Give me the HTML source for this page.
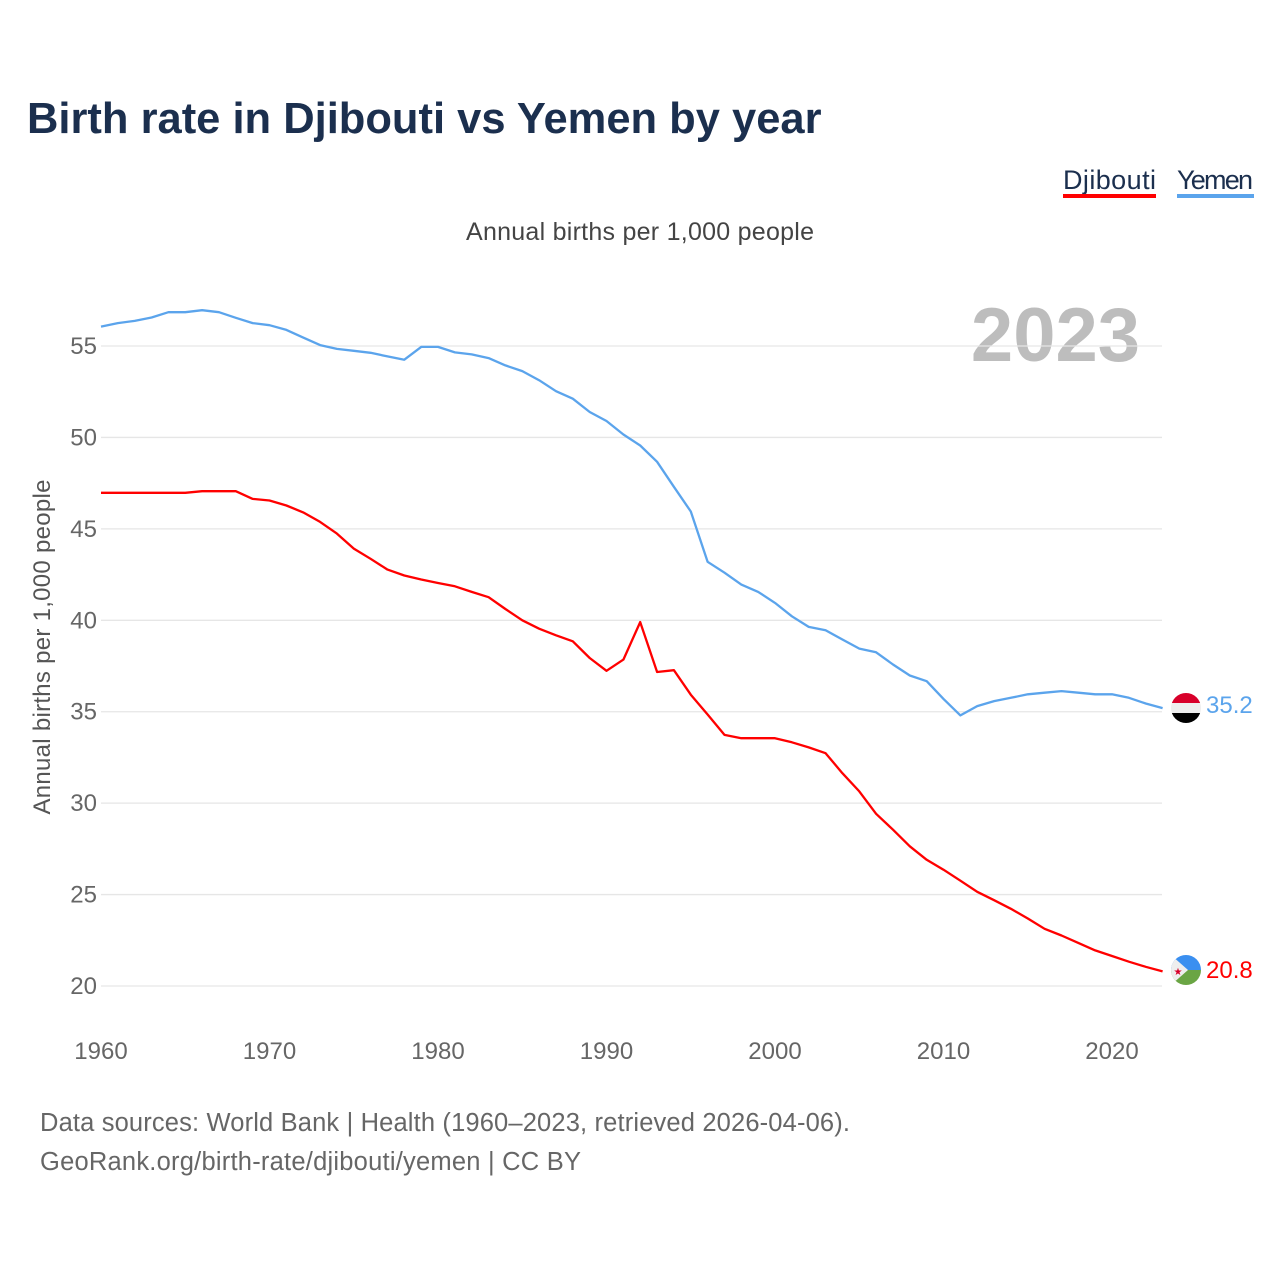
<!DOCTYPE html>
<html><head><meta charset="utf-8"><style>
body{margin:0;background:#fff;width:1280px;height:1280px;overflow:hidden;font-family:"Liberation Sans",sans-serif;}
svg text{font-family:"Liberation Sans",sans-serif;}
</style></head><body>
<svg id="chart" width="1280" height="1280" xmlns="http://www.w3.org/2000/svg">
<text x="27" y="133" font-size="43.5" font-weight="bold" fill="#1b2f4e">Birth rate in Djibouti vs Yemen by year</text>
<g>
<text x="1063" y="189" font-size="27" fill="#1b2f4e" textLength="93">Djibouti</text>
<rect x="1063" y="194" width="93" height="4" fill="#ff0000"/>
<text x="1177" y="189" font-size="27" fill="#1b2f4e" textLength="76">Yemen</text>
<rect x="1177" y="194" width="77" height="4" fill="#5ba4ec"/>
</g>
<text x="640" y="240" font-size="25" fill="#444" text-anchor="middle" textLength="348">Annual births per 1,000 people</text>
<text x="1140" y="361" font-size="76" font-weight="bold" fill="#bdbdbd" text-anchor="end">2023</text>
<g id="grid"></g>
<g id="yticks"></g>
<g id="xticks"></g>
<text transform="translate(50,647) rotate(-90)" font-size="24" fill="#555" text-anchor="middle" textLength="335">Annual births per 1,000 people</text>
<g id="lines"></g>
<g>
<clipPath id="cy"><circle cx="1186" cy="708" r="15"/></clipPath>
<g clip-path="url(#cy)"><rect x="1171" y="693" width="30" height="10" fill="#d8002a"/><rect x="1171" y="703" width="30" height="10" fill="#eee"/><rect x="1171" y="713" width="30" height="10" fill="#000"/></g>
</g>
<g>
<clipPath id="cd"><circle cx="1186" cy="970" r="15"/></clipPath>
<g clip-path="url(#cd)"><rect x="1171" y="955" width="30" height="15" fill="#3a8ff0"/><rect x="1171" y="970" width="30" height="15" fill="#6aa544"/><polygon points="1171,955 1188,970 1171,985" fill="#eee"/><text x="1178" y="975" font-size="10" fill="#d8002a" text-anchor="middle">★</text></g>
</g>
<text id="ylab" x="1206" y="713" font-size="24" fill="#5ba4ec">35.2</text>
<text id="dlab" x="1206" y="978" font-size="24" fill="#ff0000">20.8</text>
<text x="40" y="1131" font-size="25.5" fill="#666" textLength="810">Data sources: World Bank | Health (1960–2023, retrieved 2026-04-06).</text>
<text x="40" y="1170" font-size="25.5" fill="#666" textLength="541">GeoRank.org/birth-rate/djibouti/yemen | CC BY</text>
</svg>
<script>
const years = [];
for (let y = 1960; y <= 2023; y++) years.push(y);
const yemenValues = [56.06,56.25,56.37,56.56,56.85,56.85,56.96,56.85,56.54,56.25,56.14,55.88,55.46,55.05,54.84,54.74,54.63,54.43,54.25,54.95,54.95,54.65,54.54,54.34,53.94,53.63,53.13,52.53,52.12,51.39,50.9,50.16,49.56,48.67,47.3,45.95,43.2,42.6,41.95,41.55,40.95,40.22,39.64,39.45,38.95,38.45,38.25,37.58,36.98,36.67,35.7,34.8,35.31,35.58,35.76,35.95,36.04,36.13,36.04,35.95,35.95,35.76,35.45,35.2];
const djiboutiValues = [46.97,46.97,46.97,46.97,46.97,46.97,47.06,47.06,47.06,46.64,46.55,46.28,45.9,45.38,44.74,43.92,43.36,42.77,42.45,42.23,42.04,41.86,41.55,41.26,40.62,40.0,39.54,39.18,38.85,37.94,37.24,37.85,39.9,37.17,37.27,35.93,34.85,33.73,33.55,33.55,33.55,33.33,33.05,32.73,31.64,30.64,29.42,28.55,27.64,26.9,26.36,25.76,25.15,24.69,24.22,23.69,23.13,22.76,22.36,21.95,21.64,21.33,21.05,20.8];
const yTickValues = [20,25,30,35,40,45,50,55];
const xTickValues = [1960,1970,1980,1990,2000,2010,2020];
const NS = "http://www.w3.org/2000/svg";
function xs(yr){ return 101 + (yr - 1960) * 16.85; }
function ys(v){ return 346 + (55 - v) * 18.286; }
const grid = document.getElementById('grid'), yt = document.getElementById('yticks'), xt = document.getElementById('xticks'), lines = document.getElementById('lines');
yTickValues.forEach(v => {
  const l = document.createElementNS(NS,'line');
  
  
  l.setAttribute('x1',101); l.setAttribute('x2',1162); l.setAttribute('y1',ys(v)); l.setAttribute('y2',ys(v));
  l.setAttribute('stroke','#e6e6e6'); l.setAttribute('stroke-width','1.3');
  grid.appendChild(l);
  const t = document.createElementNS(NS,'text');
  
  
  t.setAttribute('x',97); t.setAttribute('y',ys(v)+8); t.setAttribute('text-anchor','end');
  t.setAttribute('font-size','24'); t.setAttribute('fill','#666'); t.textContent = v;
  yt.appendChild(t);
});
xTickValues.forEach(v => {
  const t = document.createElementNS(NS,'text');
  
  
  t.setAttribute('x',xs(v)); t.setAttribute('y',1059); t.setAttribute('text-anchor','middle');
  t.setAttribute('font-size','24'); t.setAttribute('fill','#666'); t.textContent = v;
  xt.appendChild(t);
});
function drawLine(vals, color, name){
  const p = document.createElementNS(NS,'polyline');
  
  
  p.setAttribute('points', vals.map((v,i)=>xs(years[i]).toFixed(1)+','+ys(v).toFixed(1)).join(' '));
  p.setAttribute('fill','none'); p.setAttribute('stroke',color); p.setAttribute('stroke-width','2.3'); p.setAttribute('stroke-linejoin','round');
  lines.appendChild(p);
}
drawLine(yemenValues,'#5ba4ec','yemen-line');
drawLine(djiboutiValues,'#ff0000','djibouti-line');
document.getElementById('ylab').textContent = yemenValues[yemenValues.length-1].toFixed(1);
document.getElementById('dlab').textContent = djiboutiValues[djiboutiValues.length-1].toFixed(1);
</script>
</body></html>
